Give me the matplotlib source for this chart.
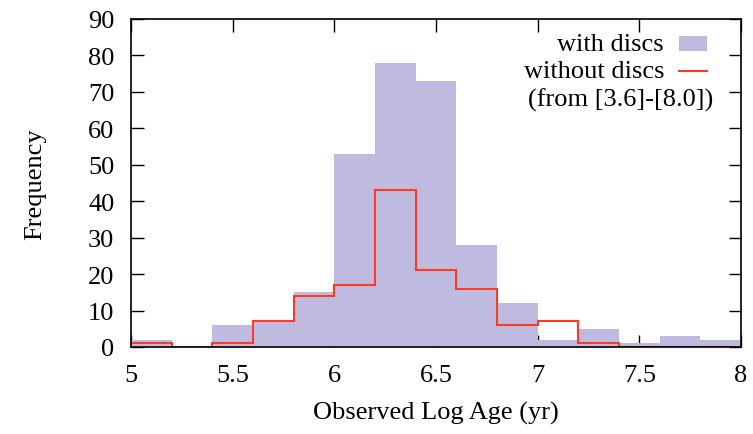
import numpy as np
import matplotlib
matplotlib.use("Agg")
import matplotlib.pyplot as plt
from matplotlib.patches import Rectangle
from matplotlib.lines import Line2D

plt.rcParams['font.family'] = ['Liberation Serif', 'DejaVu Serif']

# histogram bins (log age), width 0.2
bin_edges = np.round(np.arange(5.0, 8.0001, 0.2), 1)
with_discs = [2, 0, 6, 7, 15, 53, 78, 73, 28, 12, 2, 5, 1, 3, 2]
without_discs = [1, 0, 1, 7, 14, 17, 43, 21, 16, 6, 7, 1, 0, 0, 0]

fill_col = '#bfbadf'
line_col = '#ff3b22'
fs = 19

fig = plt.figure(figsize=(7.53, 4.35), dpi=100)
ax = fig.add_axes([131 / 753, 1 - 348 / 435, (741 - 131) / 753, (348 - 20) / 435])

ax.stairs(with_discs, bin_edges, fill=True, color=fill_col, zorder=1)
ax.stairs(without_discs, bin_edges, baseline=None, color=line_col, lw=1.5, zorder=2)

ax.set_xlim(5, 8)
ax.set_ylim(0, 90)
ax.set_xticks([5, 5.5, 6, 6.5, 7, 7.5, 8])
ax.set_xticklabels(['5', '5.5', '6', '6.5', '7', '7.5', '8'])
ax.set_yticks(range(0, 91, 10))
ax.set_axisbelow(True)
ax.tick_params(direction='in', top=True, right=True, length=9, width=1.0,
               labelsize=fs)
ax.tick_params(axis='y', pad=12)
ax.tick_params(axis='x', pad=12)
for s in ax.spines.values():
    s.set_linewidth(1.2)

ax.set_xlabel('Observed Log Age (yr)', fontsize=fs, labelpad=11)
ax.set_ylabel('Frequency', fontsize=fs, labelpad=30)

# legend drawn gnuplot-style: text right-aligned, sample on the right
tx = (664 - 131) / 610
ax.text(tx, 1 - (45 - 20) / 328, 'with discs', transform=ax.transAxes,
        ha='right', va='center', fontsize=fs)
ax.text(tx, 1 - (72 - 20) / 328, 'without discs', transform=ax.transAxes,
        ha='right', va='center', fontsize=fs)
ax.text(1 - (741 - 713) / 610, 1 - (100 - 20) / 328, '(from [3.6]-[8.0])',
        transform=ax.transAxes, ha='right', va='center', fontsize=fs)
ax.add_patch(Rectangle(((679 - 131) / 610, 1 - (52 - 20) / 328), 28 / 610, 15 / 328,
                       transform=ax.transAxes, color=fill_col, lw=0))
ax.add_line(Line2D([(679 - 131) / 610, (707 - 131) / 610],
                   [1 - (72 - 20) / 328] * 2, transform=ax.transAxes,
                   color=line_col, lw=1.5))

fig.savefig('out.png', dpi=100)
